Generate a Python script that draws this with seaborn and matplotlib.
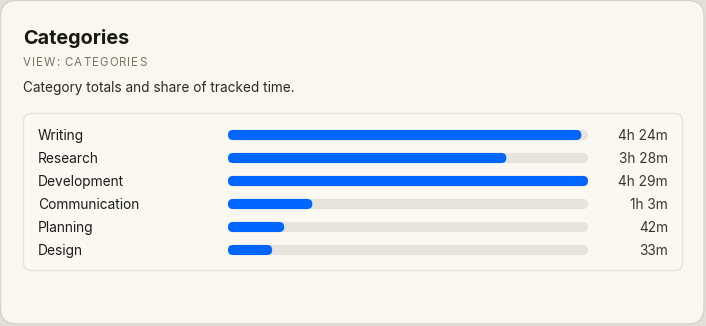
import matplotlib
matplotlib.use("Agg")
import matplotlib.pyplot as plt
from matplotlib.patches import FancyBboxPatch
from matplotlib.transforms import IdentityTransform, blended_transform_factory
import seaborn as sns
import pandas as pd

categories = ["Writing", "Research", "Development", "Communication", "Planning", "Design"]
minutes = [264, 208, 269, 63, 42, 33]
value_labels = ["4h 24m", "3h 28m", "4h 29m", "1h 3m", "42m", "33m"]

title = "Categories"
subtitle = "VIEW: CATEGORIES"
description = "Category totals and share of tracked time."

W, H, DPI = 706, 326, 100
CARD = "#faf7ef"
BLUE = "#0066ff"
TRACK = "#e7e4dd"
FONT = ["Inter", "DejaVu Sans"]

sns.set_theme(style="white")
plt.rcParams["font.family"] = FONT

fig = plt.figure(figsize=(W / DPI, H / DPI), dpi=DPI)
fig.patch.set_facecolor("#e2dfd8")

def px(x0, y0, w, h, r, fc, ec, lw=1.0, z=0):
    p = FancyBboxPatch((x0, H - y0 - h), w, h,
                       boxstyle=f"round,pad=0,rounding_size={r}",
                       transform=IdentityTransform(), fc=fc, ec=ec, lw=lw, zorder=z)
    fig.patches.append(p)

px(0.5, 0.5, W - 2.5, H - 2.5, 16, CARD, "#d6d2ca", 1.0)
px(23.5, 113.5, 659, 157, 8, "#fbf8f2", "#e8e4dc", 1.0)

def ptext(x, ybase, s, **kw):
    return fig.text(x / W, 1 - ybase / H, s, va="baseline", ha="left", **kw)

ptext(23, 44.5, title, fontsize=14.3, fontweight="bold", color="#1a1814")
ptext(23, 92, description, fontsize=9.8, color="#2e2b27")

# subtitle with letter tracking
fig.canvas.draw()
renderer = fig.canvas.get_renderer()
xcur = 23.0
for ch in subtitle:
    t = ptext(xcur, 65.5, ch, fontsize=8.3, color="#7b766c")
    if ch == " ":
        t2 = ptext(0, 65.5, "a a", fontsize=8.3)
        t3 = ptext(0, 65.5, "aa", fontsize=8.3)
        w = t2.get_window_extent(renderer).width - t3.get_window_extent(renderer).width
        t2.remove(); t3.remove()
    else:
        w = t.get_window_extent(renderer).width
    xcur += w + 1.0

df = pd.DataFrame({"category": categories, "minutes": minutes})
df["total"] = max(minutes)

row_h = 23
top = 135 - row_h / 2
ax = fig.add_axes([228 / W, 1 - (top + 6 * row_h) / H, 360 / W, 6 * row_h / H])
ax.set_facecolor("none")
sns.barplot(data=df, y="category", x="total", color=TRACK, width=0.44, ax=ax,
            orient="h", saturation=1)
sns.barplot(data=df, y="category", x="minutes", color=BLUE, width=0.44, ax=ax,
            orient="h", saturation=1)
ax.set_xlim(0, max(minutes))
ax.set_ylim(len(categories) - 0.5, -0.5)
ax.axis("off")

fig.canvas.draw()
for i, rect in enumerate(list(ax.patches)):
    x0, y0 = rect.get_x(), rect.get_y()
    x1, y1 = x0 + rect.get_width(), y0 + rect.get_height()
    (dx0, dy0), (dx1, dy1) = ax.transData.transform([(x0, y0), (x1, y1)])
    lx, rx = min(dx0, dx1), max(dx0, dx1)
    by, ty = min(dy0, dy1), max(dy0, dy1)
    hgt = ty - by
    pill = FancyBboxPatch((lx, by), rx - lx, hgt,
                          boxstyle=f"round,pad=0,rounding_size={hgt / 2}",
                          transform=IdentityTransform(),
                          fc=rect.get_facecolor(), ec="none", zorder=2 + (i >= len(categories)))
    fig.patches.append(pill)
    rect.set_visible(False)

# row labels: baseline about 5 px below row centre
for i, (c, v) in enumerate(zip(categories, value_labels)):
    cy = ax.transData.transform((0, i))[1]
    ybase = (cy - 5) / DPI / (H / DPI)
    fig.text(38 / W, ybase, c, fontsize=9.9, color="#1f1d1a",
             va="baseline", ha="left")
    fig.text(668 / W, ybase, v, fontsize=9.9, color="#3a3733",
             va="baseline", ha="right")

fig.savefig("out.png", dpi=DPI, facecolor=fig.get_facecolor())
